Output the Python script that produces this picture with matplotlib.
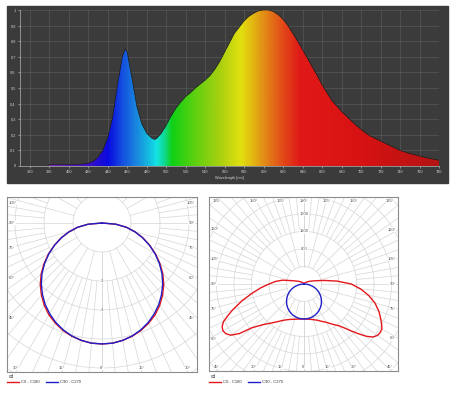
import numpy as np
import matplotlib.pyplot as plt
from matplotlib.colors import LinearSegmentedColormap
from matplotlib.lines import Line2D
from matplotlib.patches import Rectangle

plt.rcParams['font.family'] = ['Liberation Sans', 'DejaVu Sans']

# spectrum (relative intensity vs wavelength)
wavelength = [380, 385, 390, 395, 400, 405, 410, 415, 420, 425, 430, 435, 440, 445, 450, 455, 458,
              460, 465, 470, 475, 480, 485, 488, 490, 495, 500, 505, 510, 515, 520, 525, 530, 535,
              540, 545, 550, 555, 560, 565, 570, 575, 580, 585, 590, 595, 600, 605, 610, 615, 620,
              625, 630, 635, 640, 645, 650, 655, 660, 665, 670, 675, 680, 685, 690, 695, 700, 705,
              710, 715, 720, 725, 730, 735, 740, 745, 750, 755, 760, 765, 770, 775, 780]
intensity = [0.010, 0.010, 0.010, 0.010, 0.010, 0.010, 0.011, 0.013, 0.018, 0.03, 0.055, 0.10, 0.18,
             0.31, 0.52, 0.70, 0.75, 0.73, 0.56, 0.38, 0.27, 0.21, 0.18, 0.17, 0.175, 0.21, 0.26,
             0.32, 0.37, 0.41, 0.445, 0.47, 0.50, 0.525, 0.55, 0.58, 0.62, 0.67, 0.73, 0.79, 0.85,
             0.89, 0.93, 0.96, 0.98, 0.995, 1.0, 1.0, 0.99, 0.97, 0.94, 0.90, 0.85, 0.80, 0.745,
             0.69, 0.635, 0.58, 0.52, 0.47, 0.42, 0.385, 0.35, 0.32, 0.29, 0.26, 0.235, 0.21, 0.19,
             0.175, 0.16, 0.145, 0.13, 0.115, 0.10, 0.09, 0.08, 0.072, 0.064, 0.056, 0.049, 0.043,
             0.037]
x_ticks = list(range(360, 781, 20))
y_ticks = [0, 0.1, 0.2, 0.3, 0.4, 0.5, 0.6, 0.7, 0.8, 0.9, 1.0]
y_tick_labels = ['0', '0,1', '0,2', '0,3', '0,4', '0,5', '0,6', '0,7', '0,8', '0,9', '1']

# left polar diagram (cd), gamma angles 0..90
left_angles = [0, 5, 10, 15, 20, 25, 30, 35, 40, 45, 50, 55, 60, 65, 70, 75, 80, 85, 90]
left_c0 = [4.17, 4.16, 4.11, 4.04, 3.94, 3.81, 3.66, 3.47, 3.25, 3.01, 2.74, 2.44, 2.13, 1.81,
           1.50, 1.18, 0.86, 0.48, 0.0]
left_c90 = [4.17, 4.16, 4.11, 4.03, 3.92, 3.78, 3.61, 3.42, 3.20, 2.96, 2.70, 2.41, 2.11, 1.80,
            1.49, 1.18, 0.86, 0.48, 0.0]

# right polar diagram (cd), gamma angles 0..180
right_angles = [0, 5, 10, 15, 20, 25, 30, 35, 40, 42.5, 45, 47.5, 50, 52.5, 55, 57.5, 60, 62.5, 65,
                67.5, 70, 75, 80, 85, 90, 95, 100, 105, 110, 115, 120, 135, 150, 165, 180]
right_c0 = [800, 805, 820, 845, 880, 940, 1010, 1120, 1250, 1360, 1510, 1680, 1860, 1990, 2050,
            2065, 2055, 2000, 1940, 1880, 1820, 1680, 1500, 1300, 1080, 760, 470, 290, 200, 150,
            110, 50, 20, 8, 0]
right_c180 = [800, 805, 815, 835, 860, 900, 960, 1050, 1165, 1230, 1310, 1420, 1560, 1860, 2040,
              2115, 2140, 2110, 2030, 1880, 1740, 1460, 1200, 990, 800, 660, 500, 300, 200, 150,
              110, 50, 20, 8, 0]
blue_angles = [0, 5, 10, 15, 20, 25, 30, 35, 40, 45, 50, 55, 60, 65, 70, 75, 80, 85, 90]
right_c90 = [800, 797, 788, 773, 752, 725, 693, 655, 613, 566, 514, 459, 400, 338, 274, 207, 139,
             70, 0]

W, H = 455, 398
RED = '#e3171c'
BLUE = '#1f1fc8'


def fig_rect(x0, y0, x1, y1):
    return [x0 / W, 1 - y1 / H, (x1 - x0) / W, (y1 - y0) / H]


fig = plt.figure(figsize=(W / 100, H / 100), dpi=100)

# ---------- spectrum ----------
fig.patches.append(Rectangle((7 / W, 1 - 183 / H), 441 / W, 177 / H, transform=fig.transFigure,
                             color='#3b3b3b', zorder=-5))
ax = fig.add_axes(fig_rect(20, 10, 439, 166))
ax.set_facecolor('#3b3b3b')

stops = [(380, '#7a2ab4'), (420, '#3a10c8'), (440, '#0a0ae0'), (455, '#1450e0'), (470, '#1a8ade'),
         (482, '#14bce0'), (490, '#14e4e4'), (498, '#10d890'), (506, '#10d014'), (530, '#60d010'),
         (555, '#a8d010'), (577, '#e2e010'), (590, '#e2b412'), (603, '#e28418'), (620, '#e24a18'),
         (638, '#e01818'), (700, '#d81212'), (780, '#b41414')]
cmap = LinearSegmentedColormap.from_list('spec', [((w - 380) / 400, c) for w, c in stops])

poly = ax.fill_between(wavelength, intensity, 0, color='none', lw=0)
img = ax.imshow(np.linspace(0, 1, 800)[None, :], cmap=cmap, extent=(380, 780, 0, 1),
                aspect='auto', origin='lower', zorder=2)
img.set_clip_path(poly.get_paths()[0], ax.transData)
ax.plot(wavelength, intensity, color='#1c1c1c', lw=0.5, zorder=3)

ax.set_xlim(350, 780)
ax.set_ylim(0, 1.0)
ax.set_xticks(x_ticks)
ax.set_xticklabels([str(v) for v in x_ticks])
ax.set_yticks(y_ticks)
ax.set_yticklabels(y_tick_labels)
ax.grid(color='#5e5e5e', lw=0.4)
ax.set_axisbelow(True)
for s in ['top', 'right']:
    ax.spines[s].set_visible(False)
for s in ['left', 'bottom']:
    ax.spines[s].set_color('#a0a0a0')
    ax.spines[s].set_linewidth(0.6)
ax.tick_params(colors='#d0d0d0', labelsize=2.8, length=1.5, width=0.4, pad=1.5)
ax.set_xlabel('Wavelength [nm]', color='#d0d0d0', fontsize=2.8, labelpad=1)


# ---------- polar diagrams ----------
def polar_panel(box, center, units_per_px, ring_step, n_rings, fine_from, label_angles):
    x0, y0, x1, y1 = box
    cx, cy = center
    pax = fig.add_axes(fig_rect(x0, y0, x1, y1))
    xlim = ((x0 - cx) * units_per_px, (x1 - cx) * units_per_px)
    ylim = (-(y1 - cy) * units_per_px, (cy - y0) * units_per_px)
    pax.set_xlim(*xlim)
    pax.set_ylim(*ylim)
    pax.set_xticks([])
    pax.set_yticks([])
    for s in pax.spines.values():
        s.set_color('#8c8c8c')
        s.set_linewidth(0.8)

    grid = dict(color='#d6d6d6', lw=0.5, zorder=1)
    t = np.linspace(0, 2 * np.pi, 400)
    for k in range(1, n_rings + 1):
        r = k * ring_step
        pax.plot(r * np.cos(t), r * np.sin(t), **grid)
    far = n_rings * ring_step * 1.5
    for a in range(0, 181, 5):
        start = ring_step if a % 15 == 0 else fine_from * ring_step
        rad = np.radians(a)
        for side in (1, -1):
            pax.plot([side * start * np.sin(rad), side * far * np.sin(rad)],
                     [-start * np.cos(rad), -far * np.cos(rad)], **grid)

    m_y = 6 * units_per_px
    m_x = 8 * units_per_px
    for a in label_angles:
        rad = np.radians(a)
        sides = (1,) if a in (0, 180) else (1, -1)
        for side in sides:
            dx, dy = side * np.sin(rad), -np.cos(rad)
            cand = []
            if dx > 1e-9:
                cand.append((xlim[1] / dx, 'right'))
            if dx < -1e-9:
                cand.append((xlim[0] / dx, 'left'))
            if dy > 1e-9:
                cand.append((ylim[1] / dy, 'top'))
            if dy < -1e-9:
                cand.append((ylim[0] / dy, 'bottom'))
            tt, edge = min(cand)
            px, py = tt * dx, tt * dy
            if edge in ('left', 'right'):
                py = min(max(py, ylim[0] + m_y), ylim[1] - m_y)
                ha = 'left' if edge == 'left' else 'right'
                off = (1.5, 0) if edge == 'left' else (-1.5, 0)
                va = 'center'
            else:
                px = min(max(px, xlim[0] + m_x), xlim[1] - m_x)
                ha = 'center'
                va = 'bottom' if edge == 'bottom' else 'top'
                off = (0, 1.5) if edge == 'bottom' else (0, -1.5)
            pax.annotate(f'{a}°', (px, py), xytext=off, textcoords='offset points',
                         ha=ha, va=va, fontsize=3, color='#555555', zorder=4,
                         bbox=dict(fc='white', ec='none', pad=0.2))
    return pax


def mirrored(angles, right_vals, left_vals):
    a = np.radians(angles)
    r = np.array(right_vals)
    lv = np.array(left_vals)
    xs = np.concatenate([-(lv * np.sin(a))[::-1], r * np.sin(a)])
    ys = np.concatenate([-(lv * np.cos(a))[::-1], -r * np.cos(a)])
    return xs, ys


def legend(x, y):
    fig.text(x + 2 / W, 1 - y / H, 'cd', fontsize=3.5, color='#333333', va='center')
    yl = 1 - (y + 6) / H
    fig.add_artist(Line2D([x, x + 12 / W], [yl, yl], color=RED, lw=1.0, transform=fig.transFigure))
    fig.text(x + 14 / W, yl, 'C0 - C180', fontsize=3, color='#333333', va='center')
    fig.add_artist(Line2D([x + 39 / W, x + 51 / W], [yl, yl], color=BLUE, lw=1.0,
                          transform=fig.transFigure))
    fig.text(x + 53 / W, yl, 'C90 - C270', fontsize=3, color='#333333', va='center')


# left
pl = polar_panel((7, 197, 197, 372), (102, 223), 1 / 29, 1.0, 6, 2,
                 [105, 90, 75, 60, 45, 30, 15, 0])
pl.plot(*mirrored(left_angles, left_c0, left_c0), color=RED, lw=1.0, zorder=3)
pl.plot(*mirrored(left_angles, left_c90, left_c90), color=BLUE, lw=1.0, zorder=3)
for val, lab in ((2, '2'), (3, '3')):
    pl.text(0, -val, lab, fontsize=3, color='#555555', ha='center', va='center', zorder=4,
            bbox=dict(fc='white', ec='none', pad=0.2))
legend(7 / W, 376)

# right
pr = polar_panel((209, 197, 398, 371), (304, 284), 400 / 17.5, 400, 8, 3,
                 [180, 165, 150, 135, 120, 105, 90, 75, 60, 45, 30, 15, 0])
pr.plot(*mirrored(right_angles, right_c0, right_c180), color=RED, lw=1.0, zorder=3)
pr.plot(*mirrored(blue_angles, right_c90, right_c90), color=BLUE, lw=1.0, zorder=3)
for val in (800, 1200, 1600):
    pr.text(0, val, str(val), fontsize=3, color='#555555', ha='center', va='center', zorder=4,
            bbox=dict(fc='white', ec='none', pad=0.2))
legend(209 / W, 376)

fig.savefig('out.png', dpi=100, facecolor='white')
